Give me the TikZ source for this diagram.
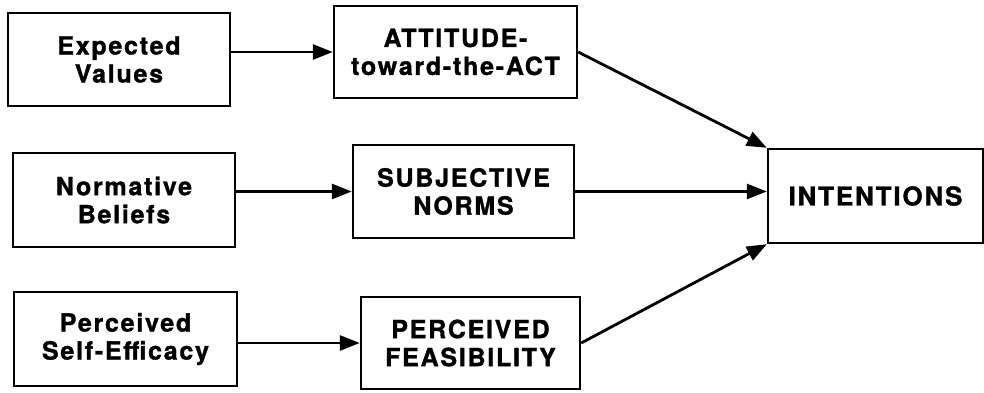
\documentclass[tikz,border=0pt]{standalone}
\usepackage{fontspec}
\setmainfont{TeX Gyre Heros}[LetterSpace=7, BoldFeatures={FakeBold=1.2}]
\usetikzlibrary{arrows.meta}
\tikzset{
  box/.style={draw, line width=2.4pt, align=center, inner sep=0pt,
    font=\fontsize{25}{28}\selectfont\bfseries},
  arr/.style={line width=2.8pt, -{Triangle[length=20pt,width=15pt]}}
}

\begin{document}
\begin{tikzpicture}[x=1pt, y=-1pt]
\useasboundingbox (0,0) rectangle (984,392);
% Left column
    \node[box, minimum width=222pt, minimum height=93pt] (ev) at (119,59.5) {Expected\\Values};
    \node[box, minimum width=222pt, minimum height=94pt] (nb) at (124,200) {Normative\\Beliefs};
    \node[box, minimum width=223pt, minimum height=94pt] (pse) at (125.5,339) {Perceived\\Self-Efficacy};
% Middle column
    \node[box, minimum width=243pt, minimum height=92pt] (att) at (455.5,52) {ATTITUDE-\\toward-the-ACT};
    \node[box, minimum width=221pt, minimum height=93pt] (sn) at (463.5,191.5) {SUBJECTIVE\\NORMS};
    \node[box, minimum width=219pt, minimum height=92pt] (pf) at (470.5,343) {PERCEIVED\\FEASIBILITY};
% Right
    \node[box, minimum width=215pt, minimum height=94pt, font=\fontsize{26}{28}\selectfont\bfseries] (int) at (875.5,196) {INTENTIONS};
% Arrows
    \draw[arr] (ev.east |- att.west) -- (att.west);
    \draw[arr] (nb.east |- sn.west) -- (sn.west);
    \draw[arr] (pse.east |- pf.west) -- (pf.west);
    \draw[arr] (att.east) -- (int.north west);
    \draw[arr] (sn.east) -- (int.west |- sn.east);
    \draw[arr] (pf.east) -- (int.south west);
\end{tikzpicture}
\end{document}
